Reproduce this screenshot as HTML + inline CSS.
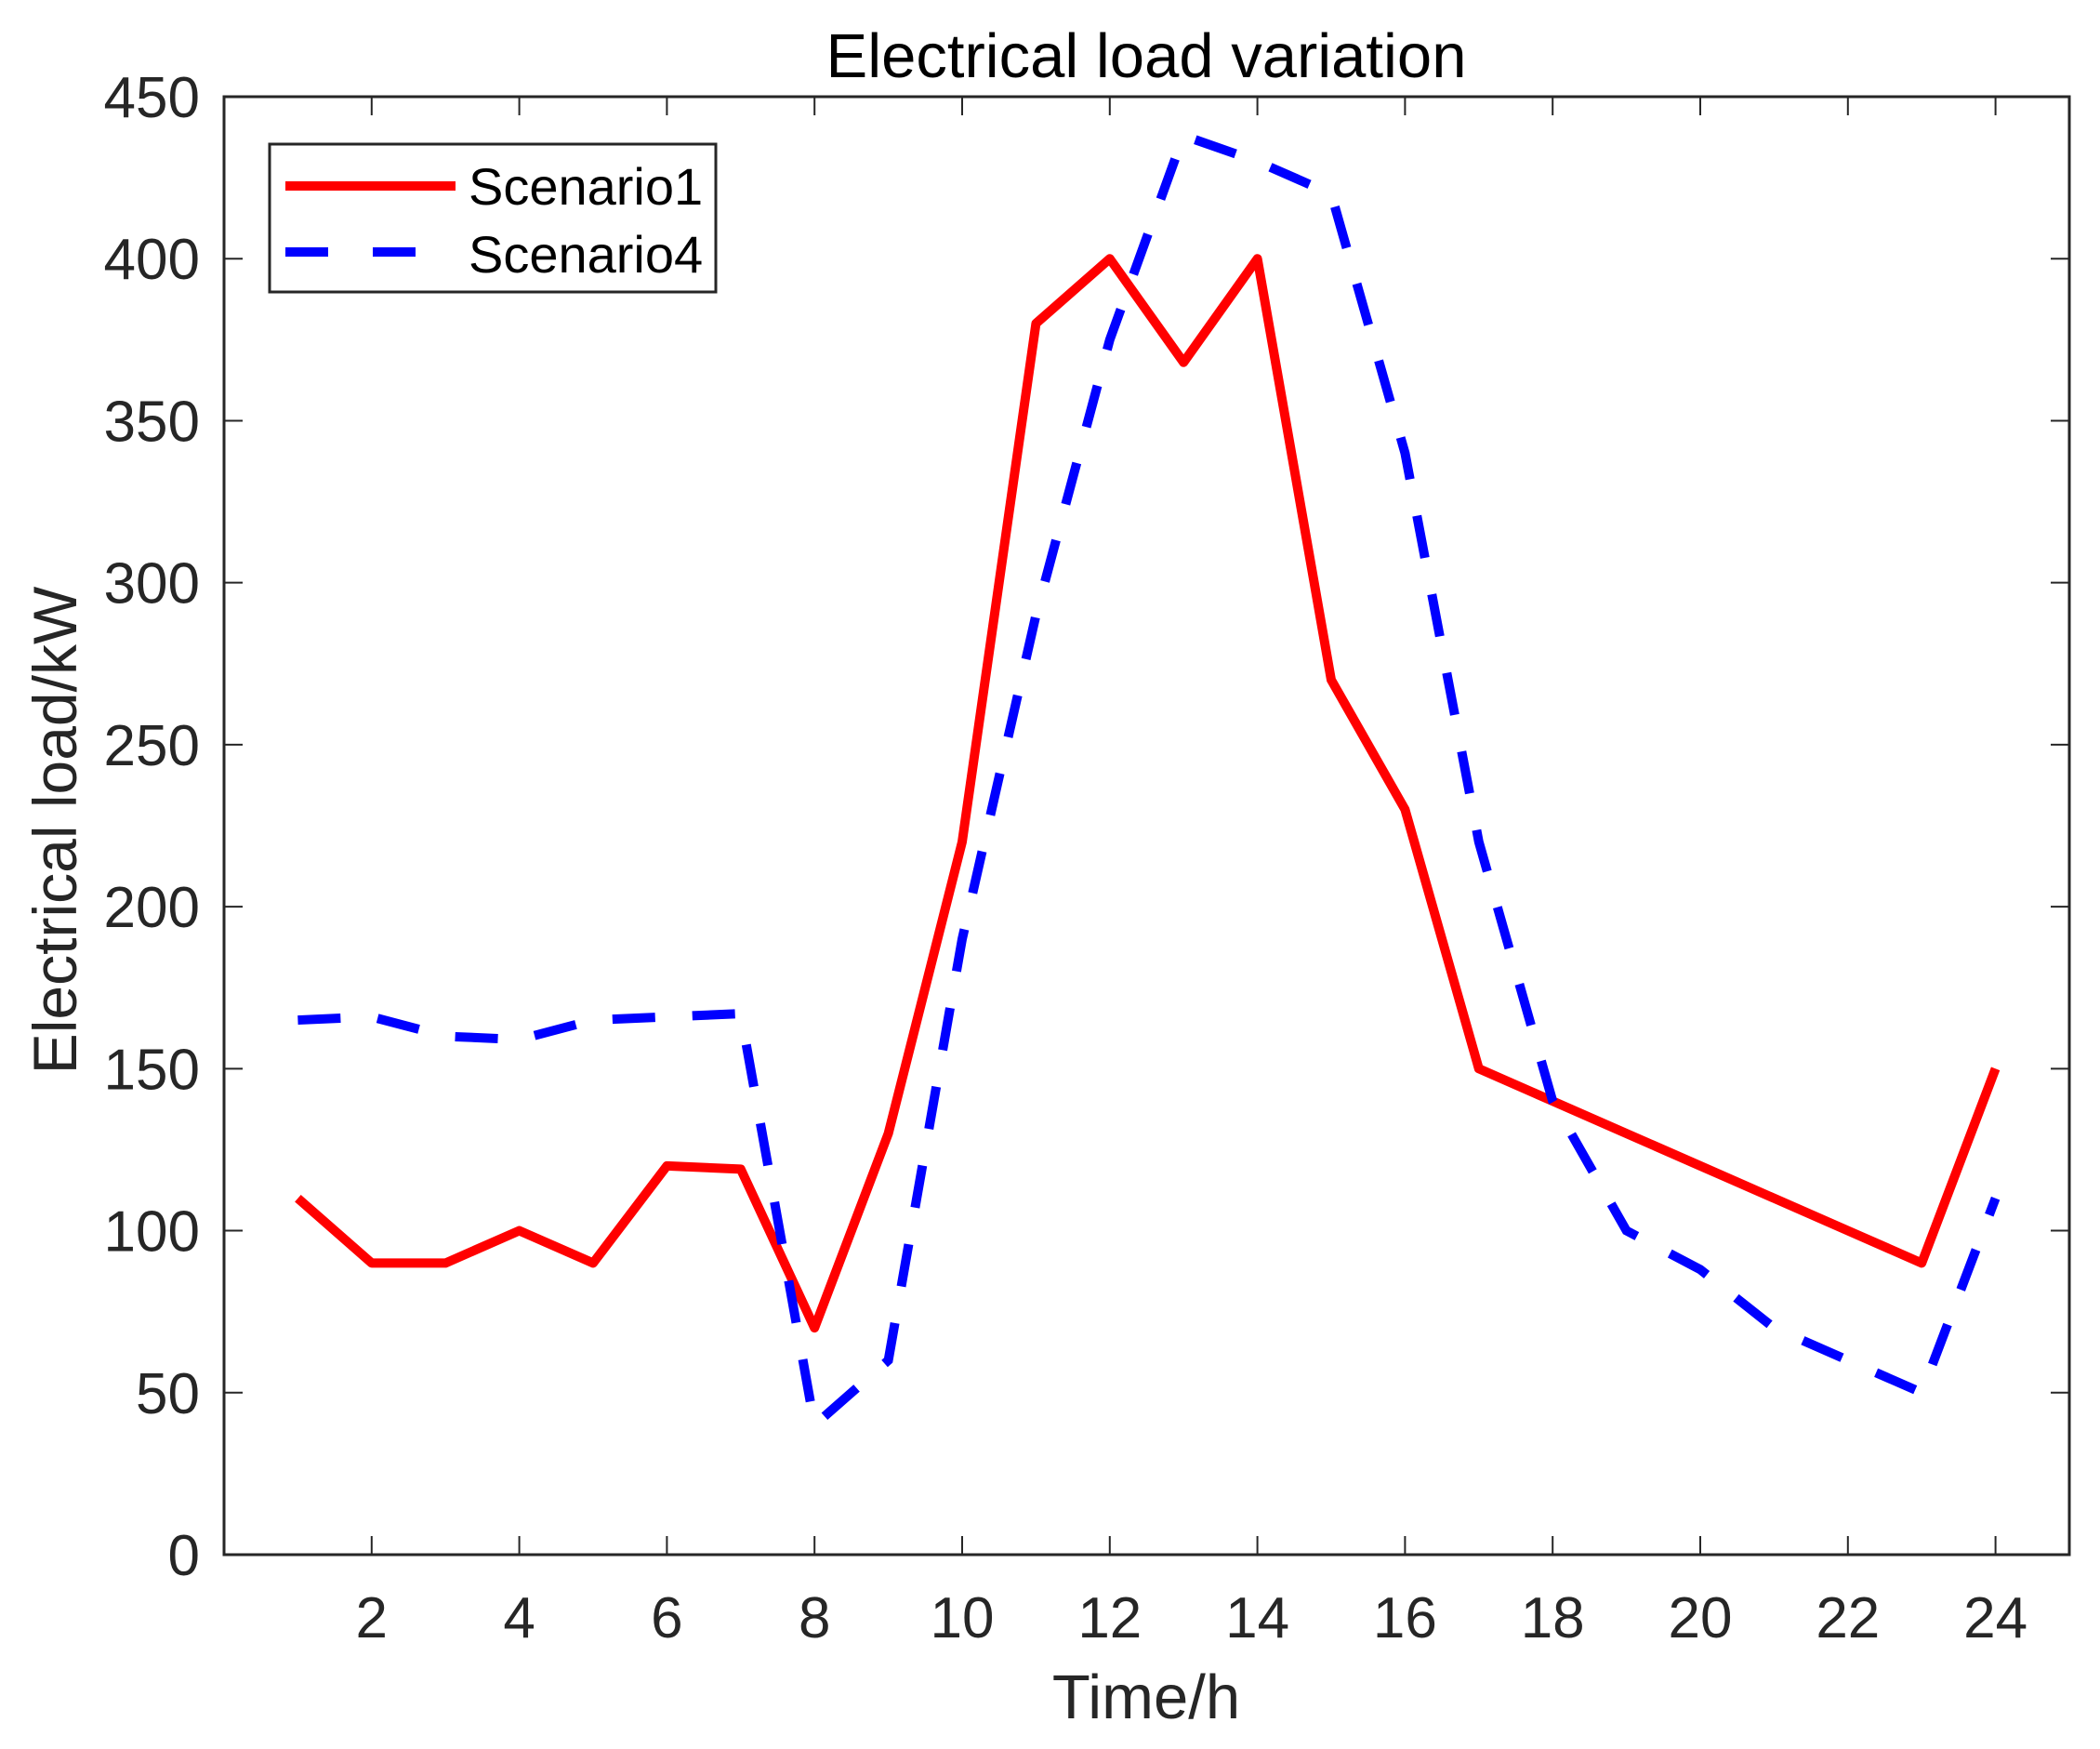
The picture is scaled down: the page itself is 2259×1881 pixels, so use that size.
<!DOCTYPE html>
<html><head><meta charset="utf-8"><style>
html,body{margin:0;padding:0;background:#fff;}
svg{display:block;}
text{font-family:"Liberation Sans",Arial,sans-serif;fill:#262626;}
</style></head><body>
<svg id="chart" width="2259" height="1881" viewBox="0 0 2259 1881" xmlns="http://www.w3.org/2000/svg">
<rect x="0" y="0" width="2259" height="1881" fill="#fff"/>
<text x="1233" y="83" font-size="67" text-anchor="middle" style="fill:#000">Electrical load variation</text>
<text x="1233" y="1848" font-size="67" text-anchor="middle">Time/h</text>
<text transform="translate(82,893) rotate(-90)" font-size="66" text-anchor="middle">Electrical load/kW</text>
<g id="grid"></g>
<g id="series"></g>
<rect x="241" y="104" width="1985" height="1568" fill="none" stroke="#262626" stroke-width="3"/>
<g>
<rect x="290" y="155" width="480" height="159" fill="#fff" stroke="#262626" stroke-width="3"/>
<line x1="307" y1="200" x2="490" y2="200" stroke="#ff0000" stroke-width="10"/>
<text x="504" y="220" font-size="56" style="fill:#000">Scenario1</text>
<line x1="307" y1="271" x2="490" y2="271" stroke="#0000ff" stroke-width="10" stroke-dasharray="46 48"/>
<text x="504" y="293" font-size="56" style="fill:#000">Scenario4</text>
</g>
</svg>
<script>
const hours = [1,2,3,4,5,6,7,8,9,10,11,12,13,14,15,16,17,18,19,20,21,22,23,24];
const scenario1 = [110,90,90,100,90,120,119,70,130,220,380,400,368,400,270,230,150,140,130,120,110,100,90,150];
const scenario4 = [165,166,160,159,165,166,167,40,60,190,290,375,438,430,420,340,220,140,100,88,70,60,50,110];
const xTicks = [2,4,6,8,10,12,14,16,18,20,22,24];
const yTicks = [0,50,100,150,200,250,300,350,400,450];

const X0=241, X1=2226, Y0=1672, Y1=104;
const xMin=0, xMax=25, yMin=0, yMax=450;
function sx(v){return X0+(v-xMin)/(xMax-xMin)*(X1-X0);}
function sy(v){return Y0-(v-yMin)/(yMax-yMin)*(Y0-Y1);}
const NS="http://www.w3.org/2000/svg";
const g=document.getElementById('grid');
const s=document.getElementById('series');
function mk(tag,attrs,parent){const e=document.createElementNS(NS,tag);for(const k in attrs)e.setAttribute(k,attrs[k]);parent.appendChild(e);return e;}

xTicks.forEach(t=>{
  const x=sx(t);
  const a=mk('line',{x1:x,y1:Y0,x2:x,y2:Y0-20,stroke:'#262626','stroke-width':2},g);
  
  
  const b=mk('line',{x1:x,y1:Y1,x2:x,y2:Y1+20,stroke:'#262626','stroke-width':2},g);
  
  
  const l=mk('text',{x:x,y:1761,'font-size':62,'text-anchor':'middle'},g);
  l.textContent=t;
  
  
});
yTicks.forEach(t=>{
  const y=sy(t);
  const a=mk('line',{x1:X0,y1:y,x2:X0+20,y2:y,stroke:'#262626','stroke-width':2},g);
  
  
  const b=mk('line',{x1:X1,y1:y,x2:X1-20,y2:y,stroke:'#262626','stroke-width':2},g);
  
  
  const l=mk('text',{x:215,y:y+22,'font-size':62,'text-anchor':'end'},g);
  l.textContent=t;
  
  
});
function pts(vals){return vals.map((v,i)=>sx(hours[i])+','+sy(v)).join(' ');}
const p1=mk('polyline',{points:pts(scenario1),fill:'none',stroke:'#ff0000','stroke-width':10,'stroke-linejoin':'round'},s);


const p4=mk('polyline',{points:pts(scenario4),fill:'none',stroke:'#0000ff','stroke-width':10,'stroke-dasharray':'46 40'},s);


</script>
</body></html>
